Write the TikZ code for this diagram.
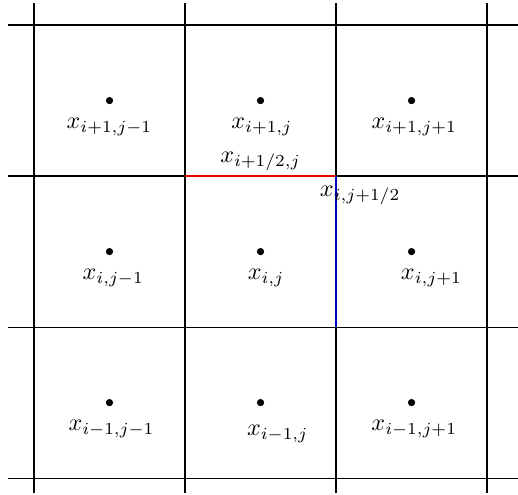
\documentclass[tikz,border=0pt]{standalone}
\usepackage{amsmath}
\usetikzlibrary{positioning}

\begin{document}
\begin{tikzpicture}[
x=2.2cm, y=2.2cm,
node distance=4.5pt and 0pt,
gridline/.style={line width=0.5pt},
dot/.style={circle, fill, inner sep=0pt, minimum size=3pt},
lab/.style={inner sep=1pt},
face_i/.style={red!90!black, line width=0.5pt},
face_j/.style={blue!70!black, line width=0.5pt}
]
\useasboundingbox (-0.225,-0.106) rectangle (3.205,3.166);

% grid
\foreach \k in {0,1,2,3} {
  \draw[gridline] (\k,-0.1) -- (\k,3.146);
  \draw[gridline] (-0.172,\k) -- (3.205,\k);
}

\coordinate (c_1_2) at (1,2);
\coordinate (c_2_2) at (2,2);
\coordinate (c_2_1) at (2,1);
\coordinate (c_mid) at (1.5,2);

% cell centres
\node[dot] (dot_ip1_jm1) at (0.5,2.5) {};
\node[dot] (dot_ip1_j)   at (1.5,2.5) {};
\node[dot] (dot_ip1_jp1) at (2.5,2.5) {};
\node[dot] (dot_i_jm1)   at (0.5,1.5) {};
\node[dot] (dot_i_j)     at (1.5,1.5) {};
\node[dot] (dot_i_jp1)   at (2.5,1.5) {};
\node[dot] (dot_im1_jm1) at (0.5,0.5) {};
\node[dot] (dot_im1_j)   at (1.5,0.5) {};
\node[dot] (dot_im1_jp1) at (2.5,0.5) {};

\node[lab, below=of dot_ip1_jm1] (lab_ip1_jm1) {$x_{i+1,j-1}$};
\node[lab, below=of dot_ip1_j, xshift=0.02cm] (lab_ip1_j) {$x_{i+1,j}$};
\node[lab, below=of dot_ip1_jp1, xshift=0.04cm] (lab_ip1_jp1) {$x_{i+1,j+1}$};
\node[lab, below=of dot_i_jm1, xshift=0.055cm] (lab_i_jm1) {$x_{i,j-1}$};
\node[lab, below=of dot_i_j, xshift=0.08cm] (lab_i_j) {$x_{i,j}$};
\node[lab, below=of dot_i_jp1, xshift=0.29cm] (lab_i_jp1) {$x_{i,j+1}$};
\node[lab, below=of dot_im1_jm1, xshift=0.03cm] (lab_im1_jm1) {$x_{i-1,j-1}$};
\node[lab, below=of dot_im1_j, xshift=0.25cm, yshift=-0.07cm] (lab_im1_j) {$x_{i-1,j}$};
\node[lab, below=of dot_im1_jp1, xshift=0.04cm] (lab_im1_jp1) {$x_{i-1,j+1}$};

% faces
\draw[face_i] (c_1_2) -- (c_2_2);
\draw[face_j] (c_2_2) -- (c_2_1);

\node[lab, above=1pt of c_mid] (lab_ih_j) {$x_{i+1/2,j}$};
\node[lab] (lab_i_jh) at (2.16,1.87) {$x_{i,j+1/2}$};

\end{tikzpicture}
\end{document}
